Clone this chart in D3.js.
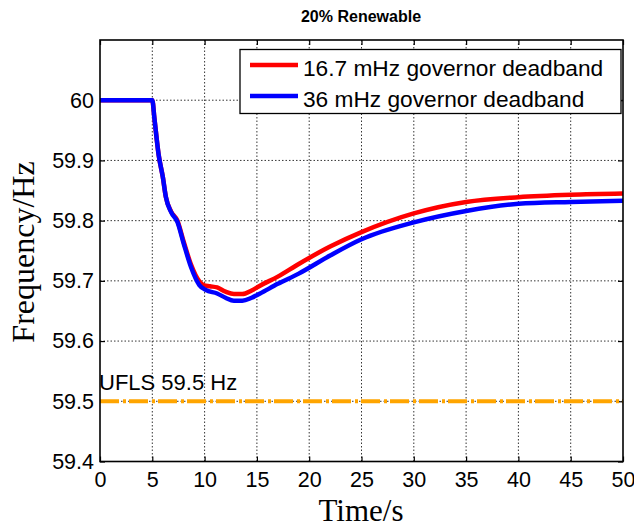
<!DOCTYPE html>
<html>
<head>
<meta charset="utf-8">
<script src="https://cdn.jsdelivr.net/npm/d3@7/dist/d3.min.js"></script>
<style>
  body { margin: 0; background: #fff; }
  svg { display: block; }
</style>
</head>
<body>
<svg id="chart" width="634" height="527"></svg>
<script>
const title = "20% Renewable";
const xLabel = "Time/s";
const yLabel = "Frequency/Hz";
const xTicks = [0, 5, 10, 15, 20, 25, 30, 35, 40, 45, 50];
const yTicks = [59.4, 59.5, 59.6, 59.7, 59.8, 59.9, 60];
const seriesNames = ["16.7 mHz governor deadband", "36 mHz governor deadband"];
const seriesColors = ["#ff0000", "#0000ff"];

const redTime = [0, 5, 5.2, 5.6, 6, 6.3, 6.8, 7.4, 8, 8.7, 9.5, 9.9, 10.5, 11.2, 12, 12.8, 13.6, 14.5, 15.3, 17, 19, 22, 25, 30, 35, 40, 45, 50];
const redFreq = [60, 60, 59.97, 59.91, 59.873, 59.839, 59.815, 59.800, 59.765, 59.727, 59.699, 59.693, 59.691, 59.689, 59.682, 59.678, 59.678, 59.684, 59.692, 59.707, 59.728, 59.757, 59.781, 59.812, 59.831, 59.839, 59.843, 59.845];

const blueTime = [0, 5, 5.2, 5.6, 6, 6.3, 6.8, 7.4, 8, 8.7, 9.5, 10.1, 11.2, 12, 12.8, 13.6, 14.5, 15.3, 17, 19, 22, 25, 30, 35, 40, 45, 50];
const blueFreq = [60, 60, 59.97, 59.91, 59.873, 59.839, 59.814, 59.798, 59.762, 59.723, 59.693, 59.685, 59.679, 59.672, 59.667, 59.667, 59.672, 59.679, 59.695, 59.712, 59.742, 59.769, 59.797, 59.816, 59.828, 59.831, 59.833];

const uflsLevel = 59.5;
const uflsLabel = "UFLS 59.5 Hz";

const svg = d3.select("#chart");
const L = 100, R = 623, T = 40, B = 461.5;

const x = d3.scaleLinear().domain([0, 50]).range([L, R]);
const y = d3.scaleLinear().domain([59.4, 60.1]).range([B, T]);

// grid
const grid = svg.append("g");
grid.selectAll("line.gx").data(xTicks.slice(1, -1)).join("line")
  .attr("x1", d => x(d)).attr("x2", d => x(d)).attr("y1", T).attr("y2", B)
  .attr("stroke", "#000").attr("stroke-width", 0.8).attr("stroke-dasharray", "1.5,2");
grid.selectAll("line.gy").data(yTicks.slice(1)).join("line")
  .attr("x1", L).attr("x2", R).attr("y1", d => y(d)).attr("y2", d => y(d))
  .attr("stroke", "#000").attr("stroke-width", 0.8).attr("stroke-dasharray", "1.5,2");

// axes with inward ticks
const fontAx = "'Liberation Sans', Arial, sans-serif";
const xAxis = svg.append("g").attr("transform", `translate(0,${B})`)
  .call(d3.axisBottom(x).tickValues(xTicks).tickSizeInner(-5).tickSizeOuter(0).tickPadding(10).tickFormat(d3.format("d")));
const yAxis = svg.append("g").attr("transform", `translate(${L},0)`)
  .call(d3.axisLeft(y).tickValues(yTicks).tickSizeInner(-5).tickSizeOuter(0).tickPadding(6).tickFormat(d => d === 60 ? "60" : d3.format(".1f")(d)));
const xTop = svg.append("g").attr("transform", `translate(0,${T})`)
  .call(d3.axisTop(x).tickValues(xTicks).tickSizeInner(-5).tickSizeOuter(0).tickFormat(""));
const yRight = svg.append("g").attr("transform", `translate(${R},0)`)
  .call(d3.axisRight(y).tickValues(yTicks).tickSizeInner(-5).tickSizeOuter(0).tickFormat(""));
[xAxis, yAxis, xTop, yRight].forEach(g => {
  g.select(".domain").remove();
  g.selectAll(".tick line").attr("stroke", "#000").attr("stroke-width", 1.2);
  g.selectAll("text").attr("font-family", fontAx).attr("font-size", 21.5).attr("fill", "#000");
});
xAxis.selectAll("text").attr("dy", "0.71em");

// curves
const line = d3.line().x(d => x(d[0])).y(d => y(d[1])).curve(d3.curveMonotoneX);
const redData = redTime.map((t, i) => [t, redFreq[i]]);
const blueData = blueTime.map((t, i) => [t, blueFreq[i]]);
svg.append("path").attr("d", line(redData)).attr("fill", "none")
  .attr("stroke", seriesColors[0]).attr("stroke-width", 4.5).attr("stroke-linejoin", "round");
svg.append("path").attr("d", line(blueData)).attr("fill", "none")
  .attr("stroke", seriesColors[1]).attr("stroke-width", 4.5).attr("stroke-linejoin", "round");

// UFLS line
svg.append("line").attr("x1", x(0)).attr("x2", x(50)).attr("y1", y(uflsLevel)).attr("y2", y(uflsLevel))
  .attr("stroke", "#ffa500").attr("stroke-width", 4).attr("stroke-dasharray", "19,4,3,3");
svg.append("text").attr("x", x(0) - 1).attr("y", y(uflsLevel) - 11)
  .attr("font-family", fontAx).attr("font-size", 22).attr("fill", "#000").text(uflsLabel);

// box
svg.append("rect").attr("x", L).attr("y", T).attr("width", R - L).attr("height", B - T)
  .attr("fill", "none").attr("stroke", "#000").attr("stroke-width", 1.6);

// legend
const lg = svg.append("g");
lg.append("rect").attr("x", 240).attr("y", 49.5).attr("width", 381).attr("height", 64)
  .attr("fill", "#fff").attr("stroke", "#000").attr("stroke-width", 1.3);
seriesNames.forEach((name, i) => {
  const yy = 65 + i * 31;
  lg.append("line").attr("x1", 250).attr("x2", 298).attr("y1", yy).attr("y2", yy)
    .attr("stroke", seriesColors[i]).attr("stroke-width", 4.5);
  lg.append("text").attr("x", 303).attr("y", yy + 11).attr("font-family", fontAx)
    .attr("font-size", 22.7).attr("fill", "#000").text(name);
});

// titles
svg.append("text").attr("x", 361).attr("y", 22).attr("text-anchor", "middle")
  .attr("font-family", fontAx).attr("font-weight", "bold").attr("font-size", 16).text(title);
svg.append("text").attr("x", 361).attr("y", 521).attr("text-anchor", "middle")
  .attr("font-family", "'Liberation Serif', 'Times New Roman', serif").attr("font-size", 31).text(xLabel);
svg.append("text").attr("transform", "translate(34,252) rotate(-90)").attr("text-anchor", "middle")
  .attr("font-family", "'Liberation Serif', 'Times New Roman', serif").attr("font-size", 32).text(yLabel);
</script>
</body>
</html>
